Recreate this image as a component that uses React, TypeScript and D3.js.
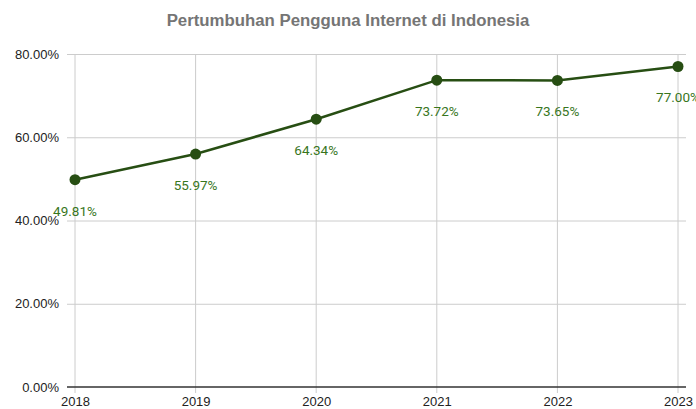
import React, { useRef, useEffect } from 'react';
import * as d3 from 'd3';

const years = ['2018', '2019', '2020', '2021', '2022', '2023'];
const users = [49.81, 55.97, 64.34, 73.72, 73.65, 77.0];
const yTicks = [0, 20, 40, 60, 80];

const W = 696;
const H = 409;

const App = () => {
  const svgRef = useRef<SVGSVGElement | null>(null);

  useEffect(() => {
    const svg = d3.select(svgRef.current);
    svg.selectAll('*').remove();

    const margin = { top: 54, right: 18, bottom: 22, left: 75 };

    const x = d3.scalePoint<string>()
      .domain(years)
      .range([margin.left, W - margin.right]);

    const y = d3.scaleLinear()
      .domain([0, 80])
      .range([H - margin.bottom, margin.top]);

    // title
    svg.append('text')
      .attr('x', W / 2)
      .attr('y', 26)
      .attr('text-anchor', 'middle')
      .attr('font-family', 'Liberation Sans, Arial, sans-serif')
      .attr('font-weight', 'bold')
      .attr('font-size', 16.8)
      .attr('fill', '#757575')
      .text('Pertumbuhan Pengguna Internet di Indonesia');

    // y labels + horizontal grid
    const yAxis = svg.append('g')
      .attr('transform', `translate(${margin.left - 8},0)`)
      .call(d3.axisLeft(y).tickValues(yTicks).tickSize(0).tickPadding(8)
        .tickFormat(d => `${(+d).toFixed(2)}%`));
    yAxis.select('.domain').remove();
    yAxis.selectAll('text')
      .attr('font-family', 'Liberation Sans, Arial, sans-serif')
      .attr('font-size', 13)
      .attr('fill', '#222');
    yAxis.selectAll('.tick')
      .filter(d => d !== 0)
      .append('line')
      .attr('x1', 0)
      .attr('x2', W - margin.right - margin.left + 16)
      .attr('stroke', '#cccccc')
      .attr('stroke-width', 1);

    // vertical grid
    svg.append('g')
      .selectAll('line')
      .data(years)
      .join('line')
      .attr('x1', d => x(d)!)
      .attr('x2', d => x(d)!)
      .attr('y1', y(80))
      .attr('y2', y(0) + 6)
      .attr('stroke', '#cccccc')
      .attr('stroke-width', 1);

    // baseline
    svg.append('line')
      .attr('x1', margin.left - 8)
      .attr('x2', W - margin.right + 8)
      .attr('y1', y(0))
      .attr('y2', y(0))
      .attr('stroke', '#333333')
      .attr('stroke-width', 1.5);

    // x labels
    const xAxis = svg.append('g')
      .attr('transform', `translate(0,${y(0)})`)
      .call(d3.axisBottom(x).tickSize(0).tickPadding(10));
    xAxis.select('.domain').remove();
    xAxis.selectAll('text')
      .attr('font-family', 'Liberation Sans, Arial, sans-serif')
      .attr('font-size', 13)
      .attr('fill', '#222');

    const pts = years.map((yr, i) => ({ yr, v: users[i] }));

    const line = d3.line<{ yr: string; v: number }>()
      .x(d => x(d.yr)!)
      .y(d => y(d.v));

    svg.append('path')
      .datum(pts)
      .attr('fill', 'none')
      .attr('stroke', '#274e13')
      .attr('stroke-width', 2.5)
      .attr('d', line);

    svg.append('g')
      .selectAll('circle')
      .data(pts)
      .join('circle')
      .attr('cx', d => x(d.yr)!)
      .attr('cy', d => y(d.v))
      .attr('r', 5.5)
      .attr('fill', '#274e13');

    // value labels (last one is clipped at the edge, as in the original)
    svg.append('g')
      .selectAll('text')
      .data(pts)
      .join('text')
      .attr('x', d => x(d.yr)!)
      .attr('y', d => y(d.v) + 36)
      .attr('text-anchor', 'middle')
      .attr('font-family', 'Roboto, sans-serif')
      .attr('font-size', 13.5)
      .attr('fill', '#38761d')
      .text(d => `${d.v.toFixed(2)}%`);
  }, []);

  return (
    <svg ref={svgRef} width={W} height={H}
      style={{ position: 'absolute', left: 0, top: 0, background: '#fff' }} />
  );
};

export default App;
